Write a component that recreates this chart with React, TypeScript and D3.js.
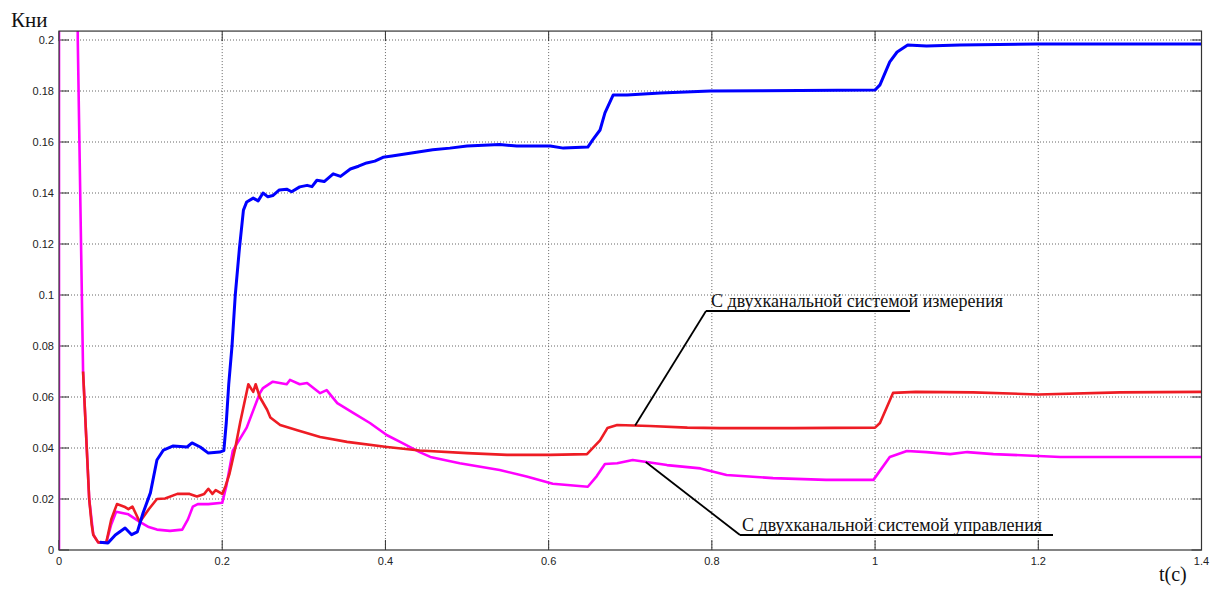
import * as d3 from "d3";

// Кни(t) curves, [t, value]
const blueSeries: [number, number][] = [
  [0.05, 0.003], [0.06, 0.0027], [0.069, 0.0059], [0.081, 0.0086], [0.089, 0.006],
  [0.096, 0.0071], [0.103, 0.0145], [0.112, 0.0224], [0.12, 0.0353], [0.128, 0.0392],
  [0.14, 0.0408], [0.157, 0.0404], [0.163, 0.042], [0.173, 0.0404], [0.183, 0.038],
  [0.197, 0.0384], [0.202, 0.039], [0.205, 0.05], [0.208, 0.065], [0.212, 0.08],
  [0.216, 0.1], [0.221, 0.118], [0.226, 0.1333], [0.23, 0.1365], [0.238, 0.138],
  [0.244, 0.1369], [0.25, 0.14], [0.256, 0.1385], [0.262, 0.139], [0.27, 0.1412],
  [0.279, 0.1415], [0.285, 0.1405], [0.295, 0.1424], [0.304, 0.143], [0.31, 0.1425],
  [0.316, 0.145], [0.325, 0.1445], [0.336, 0.1475], [0.345, 0.1465], [0.357, 0.1494],
  [0.367, 0.1505], [0.377, 0.1518], [0.387, 0.1525], [0.397, 0.154], [0.408, 0.1545],
  [0.418, 0.155], [0.438, 0.156], [0.458, 0.157], [0.479, 0.1576], [0.5, 0.1584],
  [0.54, 0.159], [0.561, 0.1584], [0.602, 0.1584], [0.618, 0.1576], [0.648, 0.158],
  [0.654, 0.1608], [0.663, 0.1647], [0.669, 0.1714], [0.679, 0.1784], [0.696, 0.1784],
  [0.737, 0.1792], [0.798, 0.18], [0.859, 0.1801], [1.0, 0.1804], [1.006, 0.1824],
  [1.018, 0.1914], [1.027, 0.1953], [1.04, 0.198], [1.063, 0.1976], [1.104, 0.198],
  [1.2, 0.1984], [1.4, 0.1984],
];

const redSeries: [number, number][] = [
  [0.0295, 0.07], [0.031, 0.06], [0.034, 0.04], [0.037, 0.02], [0.04, 0.01],
  [0.042, 0.006], [0.048, 0.003], [0.058, 0.003], [0.064, 0.012], [0.071, 0.018],
  [0.08, 0.017], [0.085, 0.016], [0.09, 0.017], [0.099, 0.011], [0.11, 0.016],
  [0.12, 0.02], [0.13, 0.0202], [0.145, 0.022], [0.16, 0.022], [0.169, 0.021],
  [0.178, 0.022], [0.183, 0.024], [0.188, 0.022], [0.192, 0.0235], [0.2, 0.022],
  [0.204, 0.025], [0.209, 0.03], [0.216, 0.04], [0.222, 0.05], [0.232, 0.065],
  [0.238, 0.062], [0.241, 0.065], [0.246, 0.06], [0.255, 0.055], [0.259, 0.052],
  [0.271, 0.049], [0.292, 0.047], [0.32, 0.0443], [0.353, 0.0424], [0.402, 0.0404],
  [0.442, 0.039], [0.5, 0.038], [0.549, 0.0373], [0.602, 0.0373], [0.647, 0.0376],
  [0.663, 0.043], [0.672, 0.0478], [0.684, 0.049], [0.724, 0.0486], [0.77, 0.048],
  [0.81, 0.0478], [0.9, 0.0478], [1.0, 0.048], [1.006, 0.0498], [1.022, 0.0616],
  [1.05, 0.062], [1.12, 0.0618], [1.2, 0.061], [1.3, 0.0618], [1.4, 0.062],
];

const magentaSeries: [number, number][] = [
  [0, 0], [0, 0.3], [0.022, 0.3], [0.023, 0.2], [0.028, 0.1], [0.0295, 0.07],
  [0.031, 0.06], [0.037, 0.02], [0.042, 0.006], [0.048, 0.003], [0.058, 0.003],
  [0.064, 0.01], [0.07, 0.015], [0.085, 0.014], [0.099, 0.011], [0.11, 0.009],
  [0.12, 0.008], [0.136, 0.0075], [0.151, 0.008], [0.158, 0.012], [0.164, 0.017],
  [0.17, 0.018], [0.183, 0.018], [0.2, 0.0185], [0.205, 0.025], [0.213, 0.039],
  [0.23, 0.048], [0.246, 0.0615], [0.25, 0.0635], [0.262, 0.066], [0.279, 0.065],
  [0.283, 0.0667], [0.295, 0.065], [0.304, 0.0655], [0.32, 0.0615], [0.328, 0.0627],
  [0.341, 0.0576], [0.361, 0.0537], [0.381, 0.0498], [0.402, 0.045], [0.418, 0.0424],
  [0.442, 0.0384], [0.455, 0.0365], [0.491, 0.034], [0.54, 0.0314], [0.573, 0.0288],
  [0.605, 0.026], [0.648, 0.0248], [0.659, 0.029], [0.669, 0.0337], [0.684, 0.034],
  [0.703, 0.0353], [0.72, 0.0345], [0.745, 0.0333], [0.786, 0.032], [0.818, 0.0294],
  [0.875, 0.0282], [0.94, 0.0275], [0.998, 0.0275], [1.018, 0.0365], [1.039, 0.0388],
  [1.063, 0.0384], [1.092, 0.0376], [1.113, 0.0384], [1.145, 0.0376], [1.227, 0.0365],
  [1.4, 0.0365],
];

const xTicks = [0, 0.2, 0.4, 0.6, 0.8, 1, 1.2, 1.4];
const yTicks = [0, 0.02, 0.04, 0.06, 0.08, 0.1, 0.12, 0.14, 0.16, 0.18, 0.2];

const yAxisTitle = "Кни";
const xAxisTitle = "t(c)";
const noteMeasure = "С двухканальной системой измерения";
const noteControl = "С двухканальной системой управления";

export default function App() {
  const width = 1222,
    height = 589;

  const x = d3.scaleLinear().domain([0, 1.4]).range([59, 1201.5]);
  const y = d3.scaleLinear().domain([0, 0.2]).range([550, 40]);
  const yTop = 0.2035;

  const left = x(0),
    right = x(1.4),
    top = y(yTop),
    bottom = y(0);

  const line = d3
    .line<[number, number]>()
    .x((d) => x(d[0]))
    .y((d) => y(d[1]));

  const tickLen = 10;
  const tickFont = "'Liberation Sans', Arial, sans-serif";
  const serif = "'Liberation Serif', 'Times New Roman', serif";

  return (
    <svg
      width={width}
      height={height}
      style={{ position: "absolute", left: 0, top: 0, background: "#fff" }}
    >
      <defs>
        <clipPath id="plotClip">
          <rect x={left} y={top} width={right - left} height={bottom - top} />
        </clipPath>
      </defs>

      {/* grid */}
      <g stroke="#666" strokeWidth={1} strokeDasharray="1 2">
        {xTicks.slice(1, -1).map((t) => (
          <line key={"gx" + t} x1={x(t)} x2={x(t)} y1={top} y2={bottom} />
        ))}
        {yTicks.slice(1).map((t) => (
          <line key={"gy" + t} x1={left} x2={right} y1={y(t)} y2={y(t)} />
        ))}
      </g>

      {/* ticks on all four sides */}
      <g stroke="#333" strokeWidth={1}>
        {xTicks.map((t) => (
          <g key={"tx" + t}>
            <line x1={x(t)} x2={x(t)} y1={bottom} y2={bottom - tickLen} />
            <line x1={x(t)} x2={x(t)} y1={top} y2={top + tickLen} />
          </g>
        ))}
        {yTicks.map((t) => (
          <g key={"ty" + t}>
            <line x1={left} x2={left + tickLen} y1={y(t)} y2={y(t)} />
            <line x1={right} x2={right - tickLen} y1={y(t)} y2={y(t)} />
          </g>
        ))}
      </g>

      {/* curves */}
      <g clipPath="url(#plotClip)" fill="none" strokeLinejoin="round">
        <path d={line(magentaSeries) || ""} stroke="#ff00ff" strokeWidth={2.6} />
        <path d={line(redSeries) || ""} stroke="#ee1c24" strokeWidth={2.6} />
        <path d={line(blueSeries) || ""} stroke="#0000ff" strokeWidth={3} />
      </g>

      {/* frame */}
      <rect
        x={left}
        y={top}
        width={right - left}
        height={bottom - top}
        fill="none"
        stroke="#333"
        strokeWidth={1.2}
      />

      {/* tick labels */}
      <g fontFamily={tickFont} fontSize={11} fill="#222">
        {xTicks.map((t) => (
          <text key={"lx" + t} x={x(t)} y={bottom + 15} textAnchor="middle">
            {d3.format("~g")(t)}
          </text>
        ))}
        {yTicks.map((t) => (
          <text key={"ly" + t} x={left - 5} y={y(t) + 4} textAnchor="end">
            {d3.format("~g")(t)}
          </text>
        ))}
      </g>

      {/* axis titles */}
      <text x={11} y={27} fontFamily={serif} fontSize={21} fill="#111">
        {yAxisTitle}
      </text>
      <text x={1159} y={581} fontFamily={serif} fontSize={20} fill="#111">
        {xAxisTitle}
      </text>

      {/* annotations */}
      <g stroke="#000" strokeWidth={1.8}>
        <line x1={x(0.706)} y1={y(0.0488)} x2={706} y2={311} />
        <line x1={706} y1={311} x2={910} y2={311} />
        <line x1={x(0.719)} y1={y(0.0345)} x2={740} y2={535} />
        <line x1={740} y1={535} x2={1053} y2={535} />
      </g>
      <g fontFamily={serif} fontSize={18} fill="#111">
        <text x={711} y={307}>{noteMeasure}</text>
        <text x={742} y={531}>{noteControl}</text>
      </g>
    </svg>
  );
}
